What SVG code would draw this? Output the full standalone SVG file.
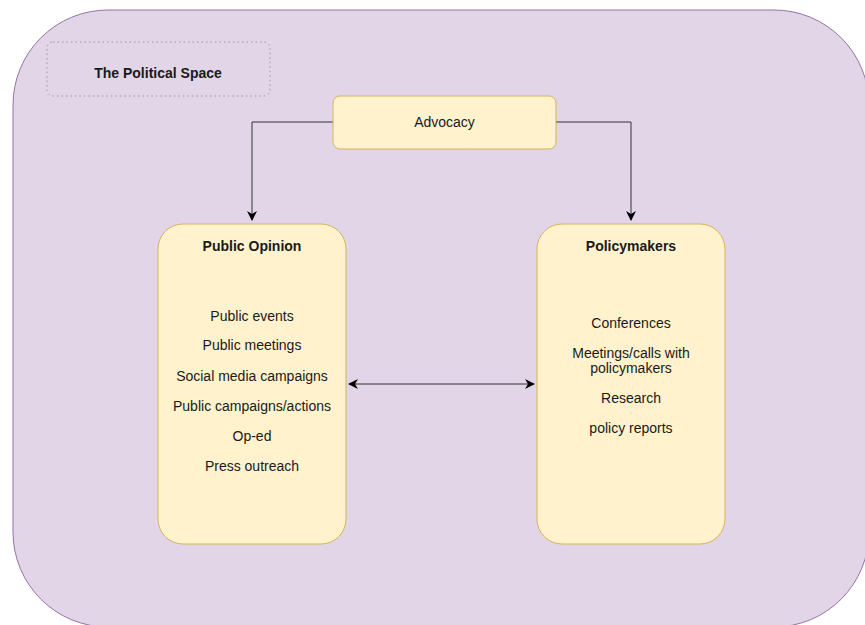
<svg xmlns="http://www.w3.org/2000/svg" width="865" height="625" viewBox="0 0 865 625">
<defs>
<style>
.t{font-family:"Liberation Sans",Arial,sans-serif;font-size:14px;fill:#1a1a1a;text-anchor:middle}
.b{font-weight:bold}
.y{fill:#fff2cc;stroke:#d6b656;stroke-width:1}
.c{fill:none;stroke:#333;stroke-width:1}
</style>
<marker id="ah" viewBox="0 0 10 10" refX="9" refY="5" markerWidth="10" markerHeight="10" orient="auto-start-reverse" markerUnits="userSpaceOnUse">
<path d="M0,0 L10,5 L0,10 L3,5 Z" fill="#000"/>
</marker>
</defs>
<rect width="865" height="625" fill="#fff"/>
<g id="space">
<rect x="13" y="10" width="856" height="617" rx="95" ry="95" fill="#e1d5e7" stroke="#9673a6"/>
</g>
<g id="label">
<rect x="47" y="42" width="223" height="54" rx="6" fill="none" stroke="#999" stroke-dasharray="1.5 3"/>
<text class="t b" x="158" y="78">The Political Space</text>
</g>
<g id="connectors">
<path class="c" d="M333,122 H252 V220" marker-end="url(#ah)"/>
<path class="c" d="M556,122 H631 V220" marker-end="url(#ah)"/>
<path class="c" d="M349,384 H534" marker-start="url(#ah)" marker-end="url(#ah)"/>
</g>
<g id="advocacy">
<rect class="y" x="333" y="96" width="223" height="53" rx="7"/>
<text class="t" x="444.5" y="127">Advocacy</text>
</g>
<g id="public-opinion">
<rect class="y" x="158" y="224" width="188" height="320" rx="25"/>
<text class="t b" x="252" y="251">Public Opinion</text>
<text class="t" x="252" y="321">Public events</text>
<text class="t" x="252" y="350">Public meetings</text>
<text class="t" x="252" y="381">Social media campaigns</text>
<text class="t" x="252" y="411">Public campaigns/actions</text>
<text class="t" x="252" y="441">Op-ed</text>
<text class="t" x="252" y="471">Press outreach</text>
</g>
<g id="policymakers">
<rect class="y" x="537" y="224" width="188" height="320" rx="25"/>
<text class="t b" x="631" y="251">Policymakers</text>
<text class="t" x="631" y="328">Conferences</text>
<text class="t" x="631" y="358">Meetings/calls with</text>
<text class="t" x="631" y="373">policymakers</text>
<text class="t" x="631" y="403">Research</text>
<text class="t" x="631" y="433">policy reports</text>
</g>
</svg>
